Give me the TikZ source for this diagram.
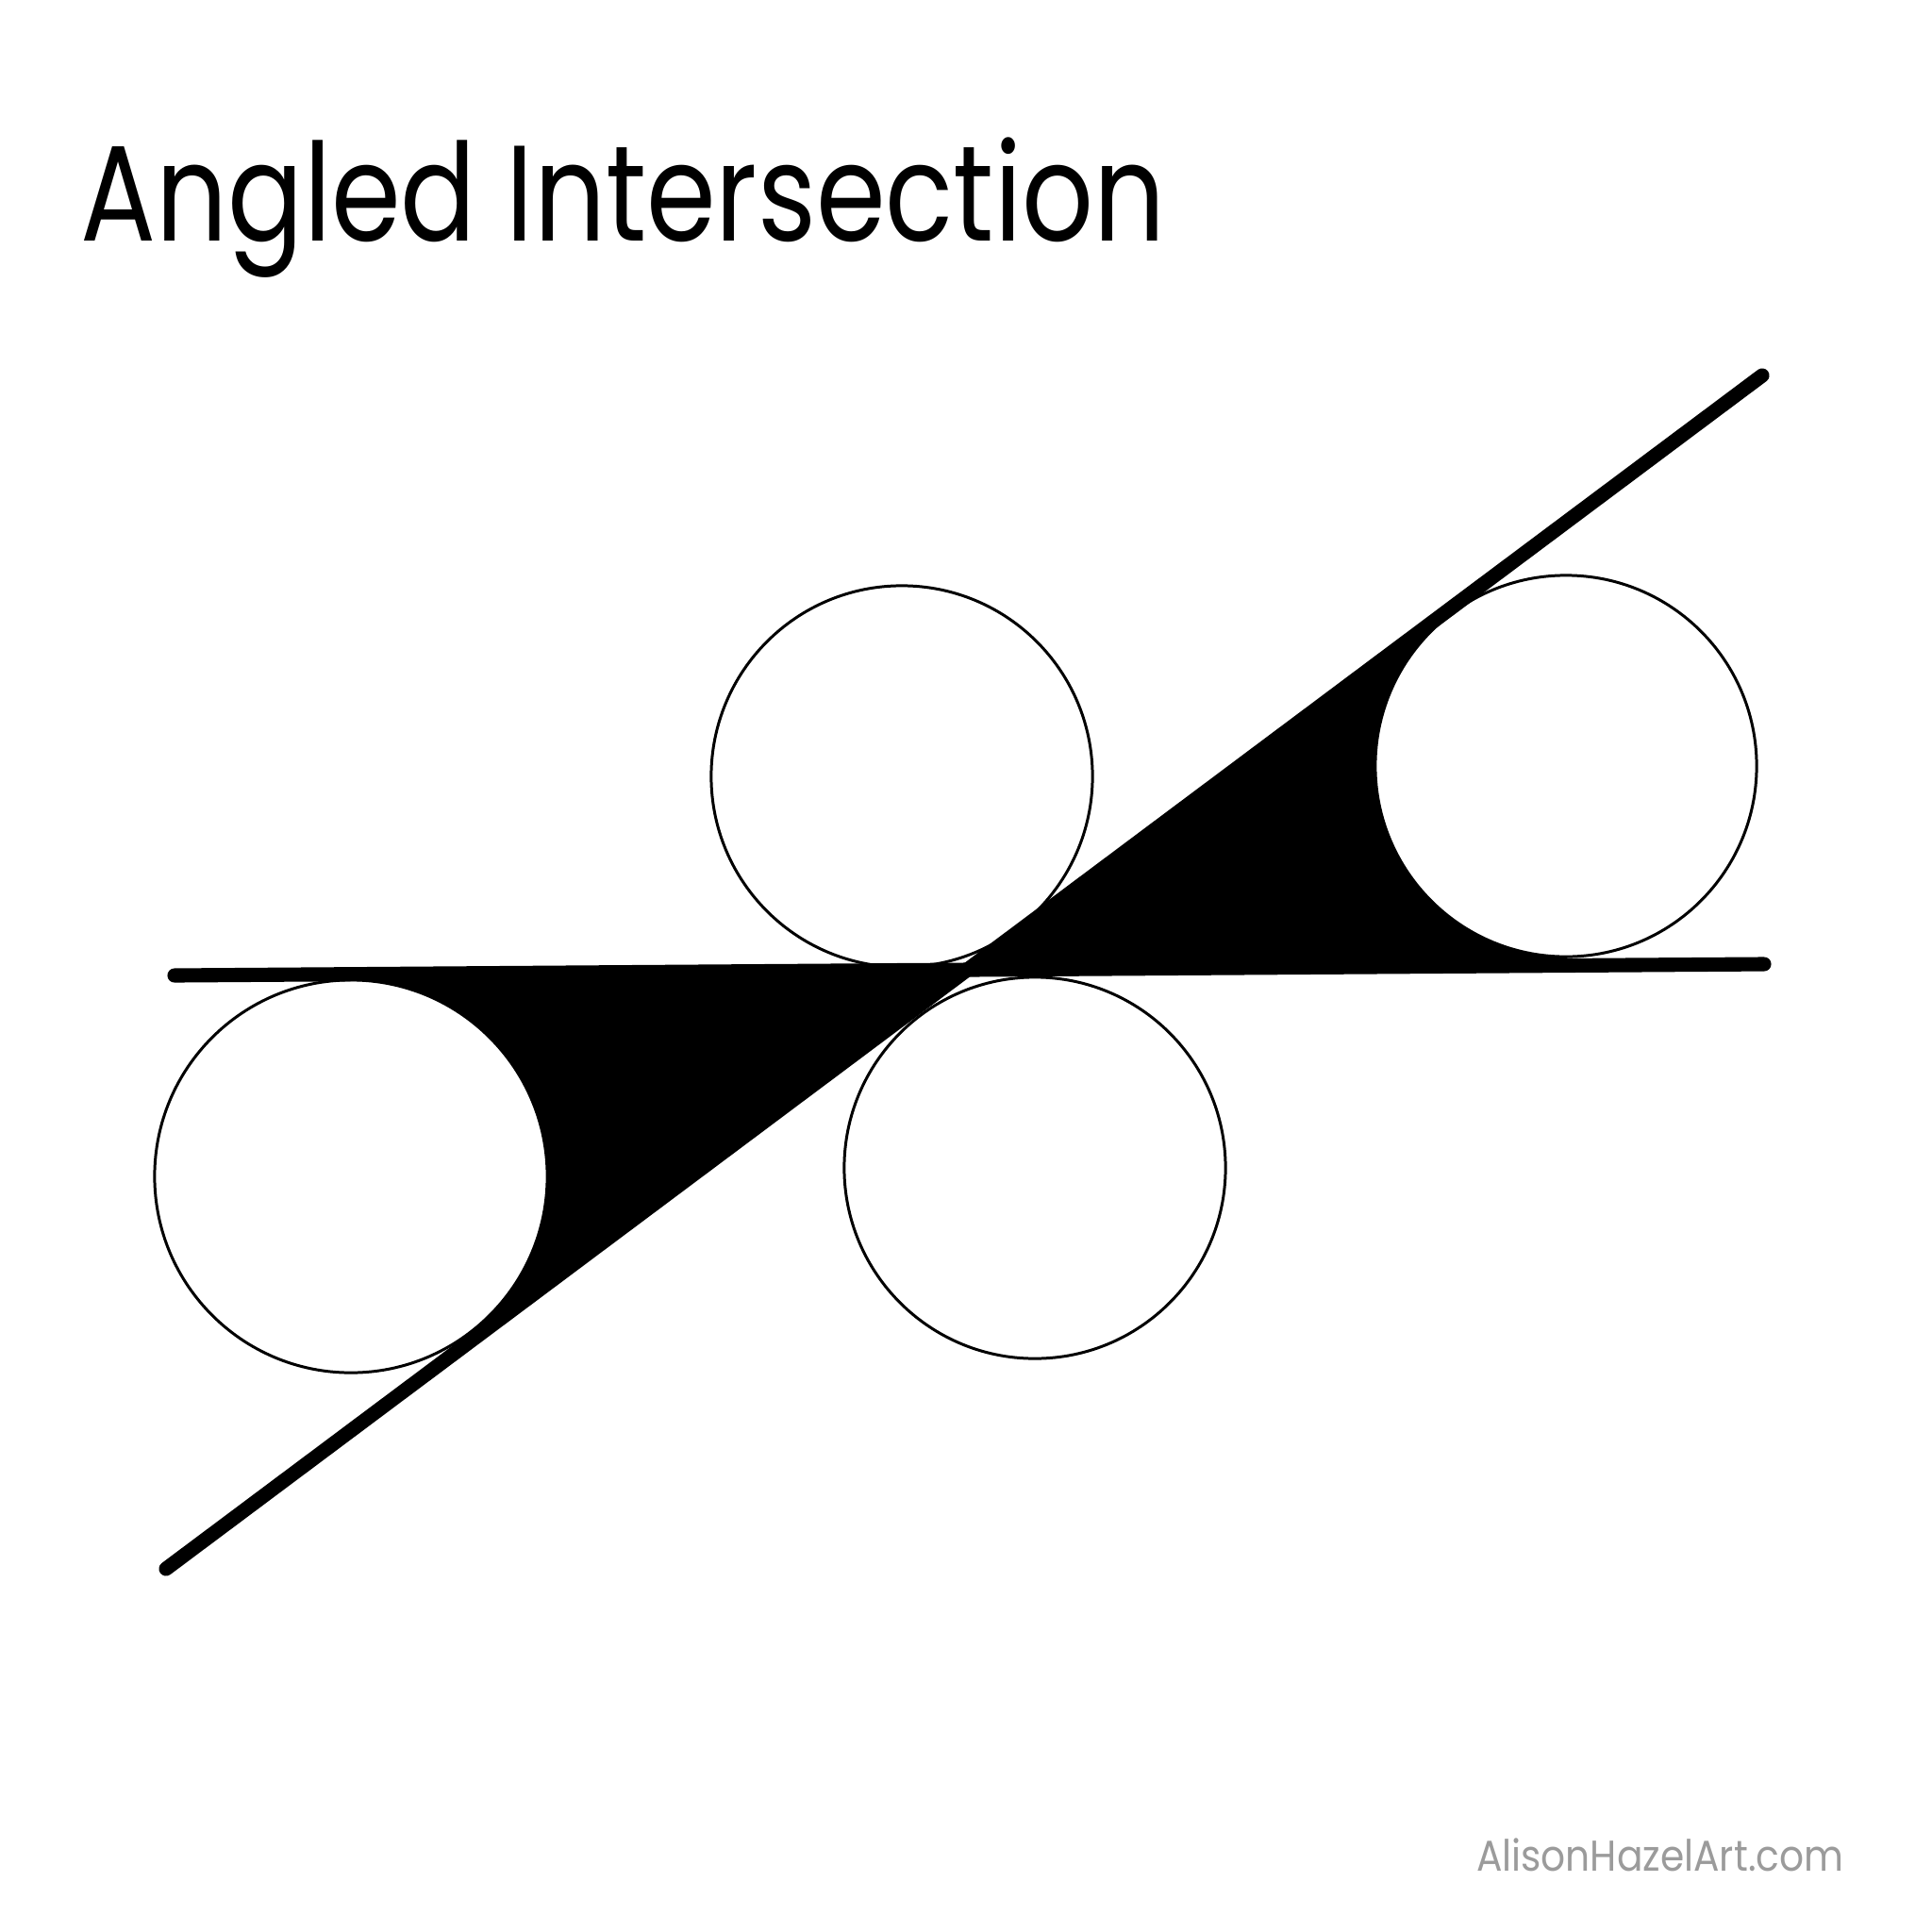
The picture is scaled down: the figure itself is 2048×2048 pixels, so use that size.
\documentclass[tikz,border=0pt]{standalone}
\usepackage{fontspec}
\usepackage{graphicx}
\setmainfont{Poppins}
\usetikzlibrary{calc}

\definecolor{markgray}{RGB}{155,155,155}

\tikzset{
	bar/.style={line width=4.3pt,line cap=round},
	roll/.style={circle,draw,fill=white,line width=0.85pt,inner sep=0pt,outer sep=0pt},
}

\begin{document}
\begin{tikzpicture}[x=0.01cm,y=-0.01cm]

\useasboundingbox (0,0) rectangle (2048,2048);

\def\rbig{4.16cm}
\def\rsmall{4.04cm}

\coordinate (hl) at (185,1034);
\coordinate (hr) at (1870,1022);
\coordinate (dl) at (176,1663);
\coordinate (dr) at (1868,398);
\coordinate (cross) at (intersection of hl--hr and dl--dr);

\coordinate (cl) at (372,1247);
\coordinate (ct) at (956,823);
\coordinate (cb) at (1097,1238);
\coordinate (cr) at (1660,812);

% the two black wedges
\fill ($(hl)!(cl)!(hr)$) -- (cross) -- ($(dl)!(cl)!(dr)$) -- (cl) -- cycle;
\fill ($(hl)!(cr)!(hr)$) -- (cross) -- ($(dl)!(cr)!(dr)$) -- (cr) -- cycle;

\node[roll,minimum size=\rbig] (left) at (cl) {};
\node[roll,minimum size=\rsmall] (top) at (ct) {};
\node[roll,minimum size=\rsmall] (bottom) at (cb) {};
\node[roll,minimum size=\rsmall] (right) at (cr) {};

\draw[bar] (hl) -- (hr);
\draw[bar] (dl) -- (dr);

\node[anchor=base west,inner sep=0pt] (title) at (85,255)
	{\resizebox{11.49cm}{\height}{\fontsize{41}{41}\selectfont Angled Intersection}};

\node[anchor=base east,inner sep=0pt,color=markgray] (mark) at (1955,1983)
	{\resizebox{3.89cm}{\height}{\fontsize{13}{13}\selectfont AlisonHazelArt.com}};

\end{tikzpicture}
\end{document}
